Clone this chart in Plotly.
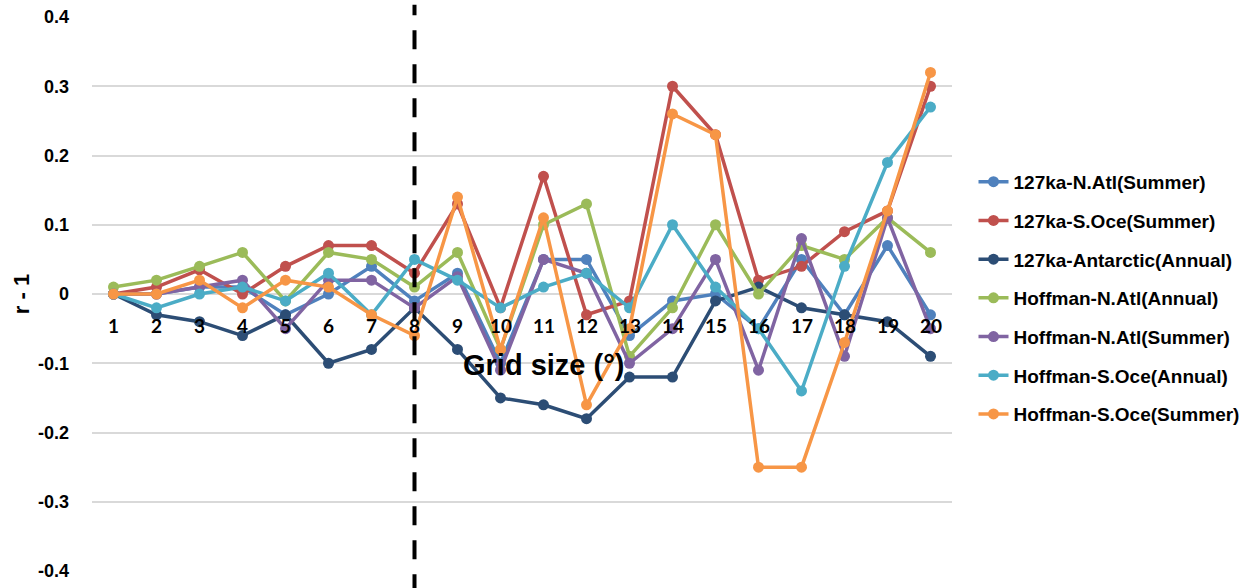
import plotly.graph_objects as go

# Grid sizes (degrees) on the category axis
grid_sizes = list(range(1, 21))

# r - 1 for each series
na_summer_127 = [0, 0.0, 0.01, 0.01, -0.03, 0.0, 0.04, -0.01, 0.03, -0.10,
                 0.05, 0.05, -0.06, -0.01, 0.0, -0.05, 0.05, -0.03, 0.07, -0.03]
so_summer_127 = [0, 0.01, 0.035, 0.0, 0.04, 0.07, 0.07, 0.03, 0.13, -0.02,
                 0.17, -0.03, -0.01, 0.30, 0.23, 0.02, 0.04, 0.09, 0.12, 0.30]
antarctic_127 = [0, -0.03, -0.04, -0.06, -0.03, -0.10, -0.08, -0.02, -0.08, -0.15,
                 -0.16, -0.18, -0.12, -0.12, -0.01, 0.01, -0.02, -0.03, -0.04, -0.09]
na_annual_hof = [0.01, 0.02, 0.04, 0.06, -0.01, 0.06, 0.05, 0.01, 0.06, -0.08,
                 0.10, 0.13, -0.09, -0.02, 0.10, 0.0, 0.07, 0.05, 0.11, 0.06]
na_summer_hof = [0, 0.0, 0.01, 0.02, -0.05, 0.02, 0.02, -0.02, 0.025, -0.11,
                 0.05, 0.03, -0.10, -0.05, 0.05, -0.11, 0.08, -0.09, 0.11, -0.05]
so_annual_hof = [0, -0.02, 0.0, 0.01, -0.01, 0.03, -0.03, 0.05, 0.02, -0.02,
                 0.01, 0.03, -0.02, 0.10, 0.01, -0.05, -0.14, 0.04, 0.19, 0.27]
so_summer_hof = [0, 0.0, 0.02, -0.02, 0.02, 0.01, -0.03, -0.06, 0.14, -0.08,
                 0.11, -0.16, -0.05, 0.26, 0.23, -0.25, -0.25, -0.07, 0.12, 0.32]

series = [
    ("127ka-N.Atl(Summer)", na_summer_127, "#4F81BD"),
    ("127ka-S.Oce(Summer)", so_summer_127, "#C0504D"),
    ("127ka-Antarctic(Annual)", antarctic_127, "#2C4D75"),
    ("Hoffman-N.Atl(Annual)", na_annual_hof, "#9BBB59"),
    ("Hoffman-N.Atl(Summer)", na_summer_hof, "#8064A2"),
    ("Hoffman-S.Oce(Annual)", so_annual_hof, "#4BACC6"),
    ("Hoffman-S.Oce(Summer)", so_summer_hof, "#F79646"),
]

y_ticks = [0.4, 0.3, 0.2, 0.1, 0, -0.1, -0.2, -0.3, -0.4]
y_tick_text = ["0.4", "0.3", "0.2", "0.1", "0", "-0.1", "-0.2", "-0.3", "-0.4"]

BOLD = "Liberation Sans"

fig = go.Figure()
for i, (name, vals, color) in enumerate(series):
    fig.add_trace(go.Scatter(
        x=grid_sizes, y=vals, name=name, mode="lines+markers",
        line=dict(color=color, width=3.5),
        marker=dict(color=color, size=11),
        legendgroup=f"g{i}",
    ))

# Category labels sit just below the zero line
for g in grid_sizes:
    fig.add_annotation(
        x=g, y=0, xref="x", yref="y", text=f"<b>{g}</b>", showarrow=False,
        yanchor="middle", yshift=-31,
        font=dict(family="Lato", size=19, color="black"),
    )

fig.add_annotation(
    x=11, y=-0.1, xref="x", yref="y", text="<b>Grid size (°)</b>",
    showarrow=False, yshift=-2,
    font=dict(family=BOLD, size=29, color="black"),
)

# Vertical dashed divider at grid size 8
fig.add_shape(
    type="line", xref="x", yref="paper", x0=8, x1=8, y0=-0.04, y1=1.022,
    line=dict(color="black", width=4, dash="19px,15px"),
)

fig.update_layout(
    width=1248, height=588,
    margin=dict(l=92, r=296, t=17, b=17, autoexpand=False),
    paper_bgcolor="white", plot_bgcolor="white",
    xaxis=dict(
        range=[0.5, 20.5], showgrid=False, zeroline=False,
        showticklabels=False, showline=False,
    ),
    yaxis=dict(
        range=[-0.4, 0.4], tickvals=y_ticks, ticktext=y_tick_text,
        showgrid=True, gridcolor="#D9D9D9", gridwidth=1.5,
        zeroline=True, zerolinecolor="#D9D9D9", zerolinewidth=1.5,
        tickfont=dict(family=BOLD, size=18, color="black", weight="bold"),
        ticklabelstandoff=22,
        title=dict(text="r - 1",
                   font=dict(family=BOLD, size=22, color="black", weight="bold"),
                   standoff=2),
    ),
    showlegend=True,
    legend=dict(
        x=1.025, y=0.493, xanchor="left", yanchor="middle",
        font=dict(family=BOLD, size=19, color="black", weight="bold"),
        tracegroupgap=11, traceorder="grouped",
        itemwidth=30,
    ),
)

fig.write_html("out.html")
